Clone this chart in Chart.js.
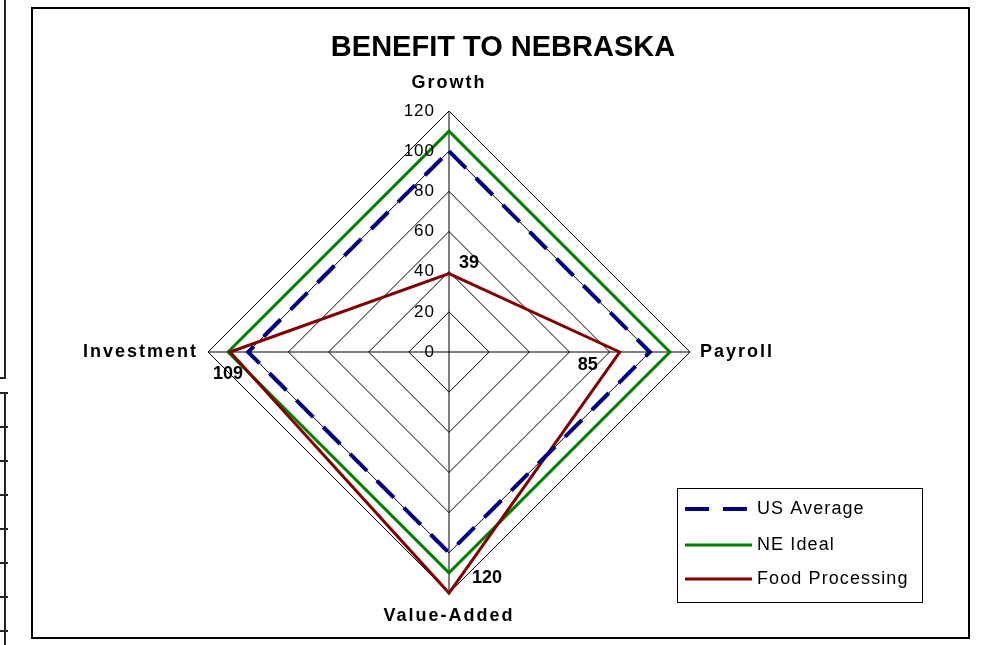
<!DOCTYPE html>
<html lang="en">
<head>
    <meta charset="UTF-8">
    <title>Benefit to Nebraska</title>
    <script src="https://cdn.jsdelivr.net/npm/chart.js"></script>
    <style>
        body {
            margin: 0;
            background: #ffffff;
            font-family: Arial, "Liberation Sans", sans-serif;
        }
        .page {
            position: relative;
            width: 992px;
            height: 645px;
            overflow: hidden;
        }
        .frame {
            position: absolute;
            left: 31px;
            top: 7px;
            width: 935px;
            height: 628px;
            border: 2px solid #000;
        }
        .edge {
            position: absolute;
            background: #222;
        }
        canvas {
            position: absolute;
            left: 0;
            top: 0;
        }
    </style>
</head>
<body>
<div class="page">
    <!-- bits of neighbouring sheet cells on the left -->
    <div class="edge" style="left:4px;top:0;width:2px;height:378px"></div>
    <div class="edge" style="left:0;top:377px;width:6px;height:2px"></div>
    <div class="edge" style="left:4px;top:392px;width:2px;height:253px"></div>
    <div id="ticks"></div>
    <div class="frame"></div>
    <canvas id="radar" width="992" height="645"></canvas>
</div>

<script>
    // Chart data
    const title = "BENEFIT TO NEBRASKA";
    const categories = ["Growth", "Payroll", "Value-Added", "Investment"];
    const usAverage = [100, 100, 100, 100];
    const neIdeal = [110, 110, 110, 110];
    const foodProcessing = [39, 85, 120, 109];
    const tickValues = [0, 20, 40, 60, 80, 100, 120];

    // little row marks of the cut-off table at the left
    const tickBox = document.getElementById("ticks");
    [392, 426, 460, 494, 528, 562, 596, 630].forEach(y => {
        const d = document.createElement("div");
        d.className = "edge";
        d.style.cssText = "left:0;top:" + y + "px;width:8px;height:2px";
        tickBox.appendChild(d);
    });

    // where the Food Processing value labels sit relative to their points
    const valueLabelOffsets = [[20, -11], [-32, 13], [38, -15], [-2, 22]];
    // gap between the outer ring and the category names
    const categoryGaps = [28, 10, 23, 10];

    const extras = {
        id: "extras",
        afterDraw(chart) {
            const ctx = chart.ctx;
            const r = chart.scales.r;
            ctx.save();
            ctx.fillStyle = "#000";

            // title
            ctx.font = "bold 29px Arial";
            ctx.textAlign = "center";
            ctx.textBaseline = "middle";
            ctx.fillText(title, 503, 48);

            // value ticks, left of the vertical axis
            ctx.font = "17px Arial";
            ctx.textAlign = "right";
            ctx.letterSpacing = "1px";
            tickValues.forEach(v => {
                const y = r.yCenter - r.getDistanceFromCenterForValue(v);
                ctx.fillText(String(v), r.xCenter - 14, y);
            });

            // category names
            ctx.font = "bold 18px Arial";
            ctx.letterSpacing = "2px";
            categories.forEach((name, i) => {
                const p = r.getPointPosition(i, r.drawingArea + categoryGaps[i]);
                if (i === 1) ctx.textAlign = "left";
                else if (i === 3) ctx.textAlign = "right";
                else ctx.textAlign = "center";
                ctx.fillText(name, p.x, p.y);
            });

            // value labels for Food Processing
            ctx.font = "bold 18px Arial";
            ctx.letterSpacing = "0px";
            ctx.textAlign = "center";
            const meta = chart.getDatasetMeta(2);
            meta.data.forEach((pt, i) => {
                const off = valueLabelOffsets[i];
                ctx.fillText(String(foodProcessing[i]), pt.x + off[0], pt.y + off[1]);
            });

            // legend box
            const lx = 677, ly = 488, lw = 245, lh = 114;
            ctx.fillStyle = "#fff";
            ctx.fillRect(lx, ly, lw, lh);
            ctx.strokeStyle = "#000";
            ctx.lineWidth = 1;
            ctx.setLineDash([]);
            ctx.strokeRect(lx + 0.5, ly + 0.5, lw, lh);
            const rows = [509, 545, 579];
            ctx.font = "18px Arial";
            ctx.letterSpacing = "1.1px";
            ctx.textAlign = "left";
            chart.data.datasets.forEach((ds, i) => {
                ctx.strokeStyle = ds.borderColor;
                ctx.lineWidth = ds.borderWidth;
                ctx.setLineDash(ds.borderDash || []);
                ctx.beginPath();
                ctx.moveTo(685, rows[i]);
                ctx.lineTo(752, rows[i]);
                ctx.stroke();
                ctx.fillStyle = "#000";
                ctx.fillText(ds.label, 757, rows[i]);
            });
            ctx.restore();
        }
    };

    new Chart(document.getElementById("radar"), {
        type: "radar",
        data: {
            labels: categories,
            datasets: [
                {
                    label: "US Average",
                    data: usAverage,
                    borderColor: "#000080",
                    borderWidth: 4,
                    borderDash: [24, 14],
                    order: 0
                },
                {
                    label: "NE Ideal",
                    data: neIdeal,
                    borderColor: "#008000",
                    borderWidth: 3,
                    order: 2
                },
                {
                    label: "Food Processing",
                    data: foodProcessing,
                    borderColor: "#800000",
                    borderWidth: 3,
                    order: 1
                }
            ]
        },
        options: {
            responsive: false,
            animation: false,
            devicePixelRatio: 1,
            layout: {
                padding: { left: 208, right: 302, top: 111, bottom: 52 }
            },
            elements: {
                line: { fill: false, tension: 0 },
                point: { radius: 0, hoverRadius: 0 }
            },
            plugins: {
                legend: { display: false },
                title: { display: false },
                tooltip: { enabled: false }
            },
            scales: {
                r: {
                    min: 0,
                    max: 120,
                    startAngle: 0,
                    ticks: { stepSize: 20, display: false, showLabelBackdrop: false },
                    pointLabels: { display: false },
                    grid: { color: "#000", lineWidth: 1 },
                    angleLines: { color: "#000", lineWidth: 1 }
                }
            }
        },
        plugins: [extras]
    });
</script>
</body>
</html>
